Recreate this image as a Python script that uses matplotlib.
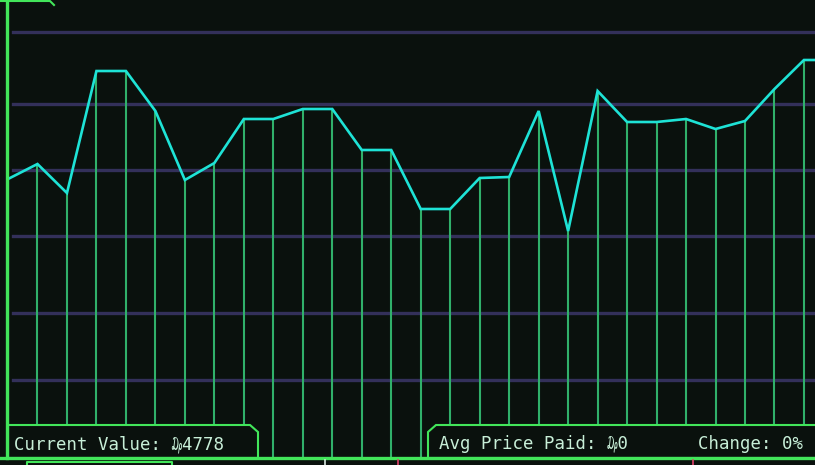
import matplotlib.pyplot as plt
from matplotlib.patches import Polygon

# price history (one point per tick), last value repeats past the right edge
prices = [286, 301, 272, 394, 394, 354, 285, 302, 346, 346, 356, 356, 315, 315,
          256, 256, 287, 288, 354, 234, 374, 343, 343, 346, 336, 344, 376, 405, 405]
grid_levels = [433, 361, 295, 229, 152, 85]

current_value = 4778
avg_price_paid = 0
change_pct = 0

bg = "#0a110d"
cyan = "#1ee3d6"
drop_green = "#30b06a"
frame_green = "#42e65a"
grid_purple = "#33305a"
text_col = "#c8efd8"

fig = plt.figure(figsize=(8.15, 4.65), dpi=100, facecolor=bg)
ax = fig.add_axes([0, 0, 1, 1])
ax.set_facecolor(bg)
ax.set_axis_off()

step = 29.48
x0 = -8 / step
x1 = (815 - 8) / step
ax.set_xlim(x0, x1)
ax.set_ylim(0, 465)

def px(p):
    return x0 + p / step

# grid
for g in grid_levels:
    ax.plot([px(13), x1], [g, g], color=grid_purple, lw=2.4, zorder=1)

xs = list(range(len(prices)))
base = 7
ax.vlines(xs, base, prices, color=drop_green, lw=1.5, zorder=2)
ax.plot(xs, prices, color=cyan, lw=1.9, zorder=4, solid_joinstyle="miter")

# status boxes
left_box = Polygon([(px(8), base), (px(8), 40), (px(250), 40), (px(258), 33), (px(258), base)],
                   closed=True, facecolor=bg, edgecolor=frame_green, lw=1.5, zorder=5)
right_box = Polygon([(px(428), base), (px(428), 33), (px(436), 40), (x1 + 1, 40), (x1 + 1, base)],
                    closed=True, facecolor=bg, edgecolor=frame_green, lw=1.5, zorder=5)
ax.add_patch(left_box)
ax.add_patch(right_box)

# outer frame
ax.plot([px(7), px(7)], [base, 465], color=frame_green, lw=2.4, zorder=6)
ax.plot([x0, x1], [base, base], color=frame_green, lw=2.4, zorder=6)
ax.plot([x0, px(50), px(54)], [464, 464, 460], color=frame_green, lw=1.5, zorder=6)

# bits of the panel below
ax.plot([px(27), px(27), px(172), px(172)], [0, 3, 3, 0], color=frame_green, lw=1.5, zorder=6)
ax.plot([px(325), px(325)], [0, 5], color="#d8e8e0", lw=1.2, zorder=6)
ax.plot([px(398), px(398)], [0, 5], color="#e0406a", lw=1.2, zorder=6)
ax.plot([px(693), px(693)], [0, 5], color="#e0406a", lw=1.2, zorder=6)

font = dict(family=["DejaVu Sans Mono", "DejaVu Sans"], fontsize=12.5, color=text_col, zorder=7,
            va="baseline")
ax.text(px(14), 16, f"Current Value: \u20af{current_value}", ha="left", **font)
ax.text(px(439), 16, f"Avg Price Paid: \u20af{avg_price_paid}", ha="left", **font)
ax.text(px(803), 16, f"Change: {change_pct}%", ha="right", **font)

fig.savefig("out.png", dpi=100, facecolor=bg)
